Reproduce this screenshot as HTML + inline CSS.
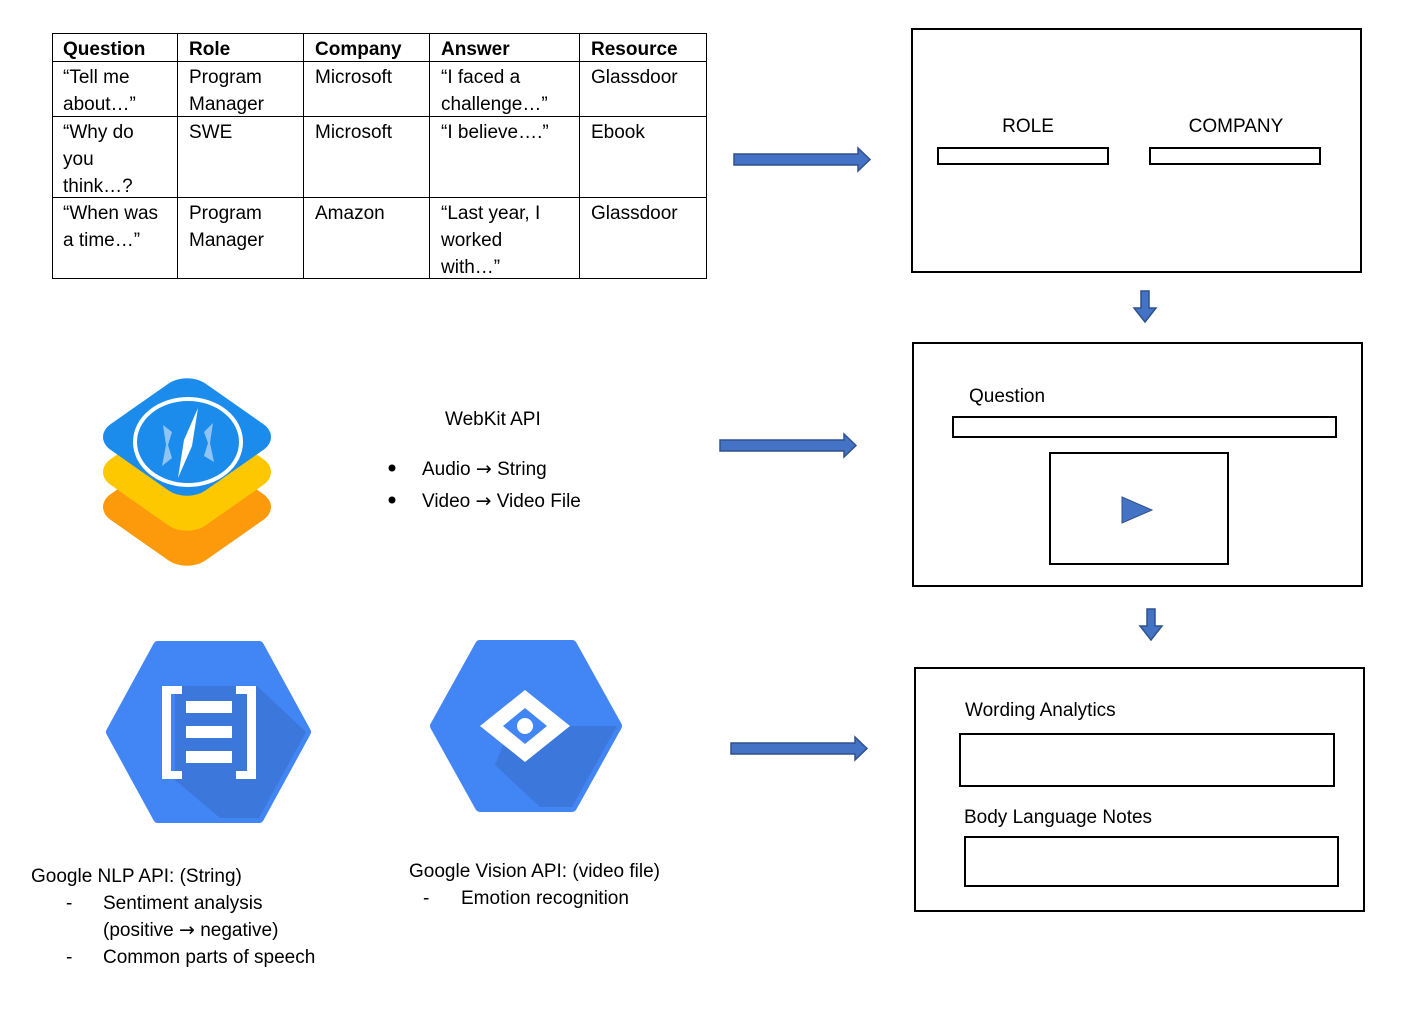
<!DOCTYPE html>
<html><head><style>
body{margin:0;background:#fff;}
svg text{font-family:"Liberation Sans",sans-serif;font-size:19px;fill:#000;}
svg text tspan.a{font-family:"DejaVu Sans",sans-serif;}
</style></head><body>
<svg width="1411" height="1004" viewBox="0 0 1411 1004" xmlns="http://www.w3.org/2000/svg">
<g stroke="#000" stroke-width="1" fill="none">
<rect x="52.5" y="33.5" width="654" height="245"/>
<line x1="177.5" y1="33" x2="177.5" y2="279"/>
<line x1="303.5" y1="33" x2="303.5" y2="279"/>
<line x1="429.5" y1="33" x2="429.5" y2="279"/>
<line x1="579.5" y1="33" x2="579.5" y2="279"/>
<line x1="52" y1="61.5" x2="707" y2="61.5"/>
<line x1="52" y1="116.5" x2="707" y2="116.5"/>
<line x1="52" y1="197.5" x2="707" y2="197.5"/>
</g>
<text x="63" y="55" font-weight="bold">Question</text>
<text x="189" y="55" font-weight="bold">Role</text>
<text x="315" y="55" font-weight="bold">Company</text>
<text x="441" y="55" font-weight="bold">Answer</text>
<text x="591" y="55" font-weight="bold">Resource</text>
<text x="63" y="83">“Tell me</text><text x="63" y="110">about…”</text>
<text x="189" y="83">Program</text><text x="189" y="110">Manager</text>
<text x="315" y="83">Microsoft</text>
<text x="441" y="83">“I faced a</text><text x="441" y="110">challenge…”</text>
<text x="591" y="83">Glassdoor</text>
<text x="63" y="138">“Why do</text><text x="63" y="165">you</text><text x="63" y="192">think…?</text>
<text x="189" y="138">SWE</text>
<text x="315" y="138">Microsoft</text>
<text x="441" y="138">“I believe….”</text>
<text x="591" y="138">Ebook</text>
<text x="63" y="219">“When was</text><text x="63" y="246">a time…”</text>
<text x="189" y="219">Program</text><text x="189" y="246">Manager</text>
<text x="315" y="219">Amazon</text>
<text x="441" y="219">“Last year, I</text><text x="441" y="246">worked</text><text x="441" y="273">with…”</text>
<text x="591" y="219">Glassdoor</text>

<g fill="#4472c4" stroke="#2f528f" stroke-width="1.5">
<polygon points="734,154 858,154 858,148 870,159.5 858,171 858,165 734,165"/>
<polygon points="720,440 844,440 844,434 856,445.5 844,457 844,451 720,451"/>
<polygon points="731,743 855,743 855,737 867,748.5 855,760 855,754 731,754"/>
<polygon points="1141,291 1149,291 1149,308 1156,308 1145,322 1134,308 1141,308"/>
<polygon points="1147,609 1155,609 1155,626 1162,626 1151,640 1140,626 1147,626"/>
</g>

<g stroke="#000" stroke-width="2" fill="none">
<rect x="912" y="29" width="449" height="243"/>
<rect x="938" y="148" width="170" height="16"/>
<rect x="1150" y="148" width="170" height="16"/>
<rect x="913" y="343" width="449" height="243"/>
<rect x="953" y="417" width="383" height="20"/>
<rect x="1050" y="453" width="178" height="111"/>
<rect x="915" y="668" width="449" height="243"/>
<rect x="960" y="734" width="374" height="52"/>
<rect x="965" y="837" width="373" height="49"/>
</g>
<polygon points="1122,497 1152,510 1122,523" fill="#4472c4" stroke="#2f528f"/>
<text x="1028" y="132" text-anchor="middle">ROLE</text>
<text x="1236" y="132" text-anchor="middle">COMPANY</text>
<text x="969" y="402">Question</text>
<text x="965" y="716">Wording Analytics</text>
<text x="964" y="823">Body Language Notes</text>

<g transform="translate(187,507) scale(1,0.7) rotate(45)"><rect x="-67" y="-67" width="134" height="134" rx="26" fill="#fd9a0c"/></g>
<g transform="translate(187,472) scale(1,0.7) rotate(45)"><rect x="-67" y="-67" width="134" height="134" rx="26" fill="#fdc800"/></g>
<g transform="translate(187,437) scale(1,0.7) rotate(45)"><rect x="-67" y="-67" width="134" height="134" rx="26" fill="#1b8cec"/></g>
<ellipse cx="188" cy="442" rx="53" ry="43" fill="none" stroke="#fff" stroke-width="4"/>
<path d="M198,408 L192,446 L178,478 L184,440Z" fill="#fff"/>
<path d="M163,425 L172,432 L168,445 L172,458 L162,466 L166,445Z M213,423 L204,432 L208,443 L204,456 L214,462 L210,443Z" fill="#8fc4f5"/>

<text x="445" y="425">WebKit API</text>
<circle cx="392" cy="468" r="3.5" fill="#000"/>
<circle cx="392" cy="500" r="3.5" fill="#000"/>
<text x="422" y="475" font-size="20">Audio <tspan class="a">→</tspan> String</text>
<text x="422" y="507" font-size="20">Video <tspan class="a">→</tspan> Video File</text>

<polygon points="158,646 259,646 306,732 259,818 158,818 111,732" fill="#4285f4" stroke="#4285f4" stroke-width="10" stroke-linejoin="round"/>
<polygon points="175,686 257,686 306,732 259,818 220,818 175,780" fill="#3b73d6" opacity="0.8"/>
<g fill="#fff">
<rect x="162" y="686" width="9" height="93"/><rect x="162" y="686" width="20" height="8"/><rect x="162" y="771" width="20" height="8"/>
<rect x="247" y="686" width="9" height="93"/><rect x="236" y="686" width="20" height="8"/><rect x="236" y="771" width="20" height="8"/>
<rect x="186" y="701" width="46" height="12"/><rect x="186" y="726" width="46" height="12"/><rect x="186" y="751" width="46" height="12"/>
</g>
<polygon points="480,645 572,645 617,726 572,807 480,807 435,726" fill="#4285f4" stroke="#4285f4" stroke-width="10" stroke-linejoin="round"/>
<polygon points="525,690 570,726 617,726 572,807 540,807 495,765" fill="#3b73d6" opacity="0.8"/>
<polygon points="525,690 570,726 525,762 480,726" fill="#fff"/>
<polygon points="525,708 547,726 525,744 503,726" fill="#4285f4"/>
<circle cx="525" cy="726" r="8" fill="#fff"/>

<text x="31" y="882">Google NLP API: (String)</text>
<text x="66" y="909">-</text><text x="103" y="909">Sentiment analysis</text>
<text x="103" y="936">(positive <tspan class="a">→</tspan> negative)</text>
<text x="66" y="963">-</text><text x="103" y="963">Common parts of speech</text>
<text x="409" y="877">Google Vision API: (video file)</text>
<text x="423" y="904">-</text><text x="461" y="904">Emotion recognition</text>
</svg>
</body></html>
